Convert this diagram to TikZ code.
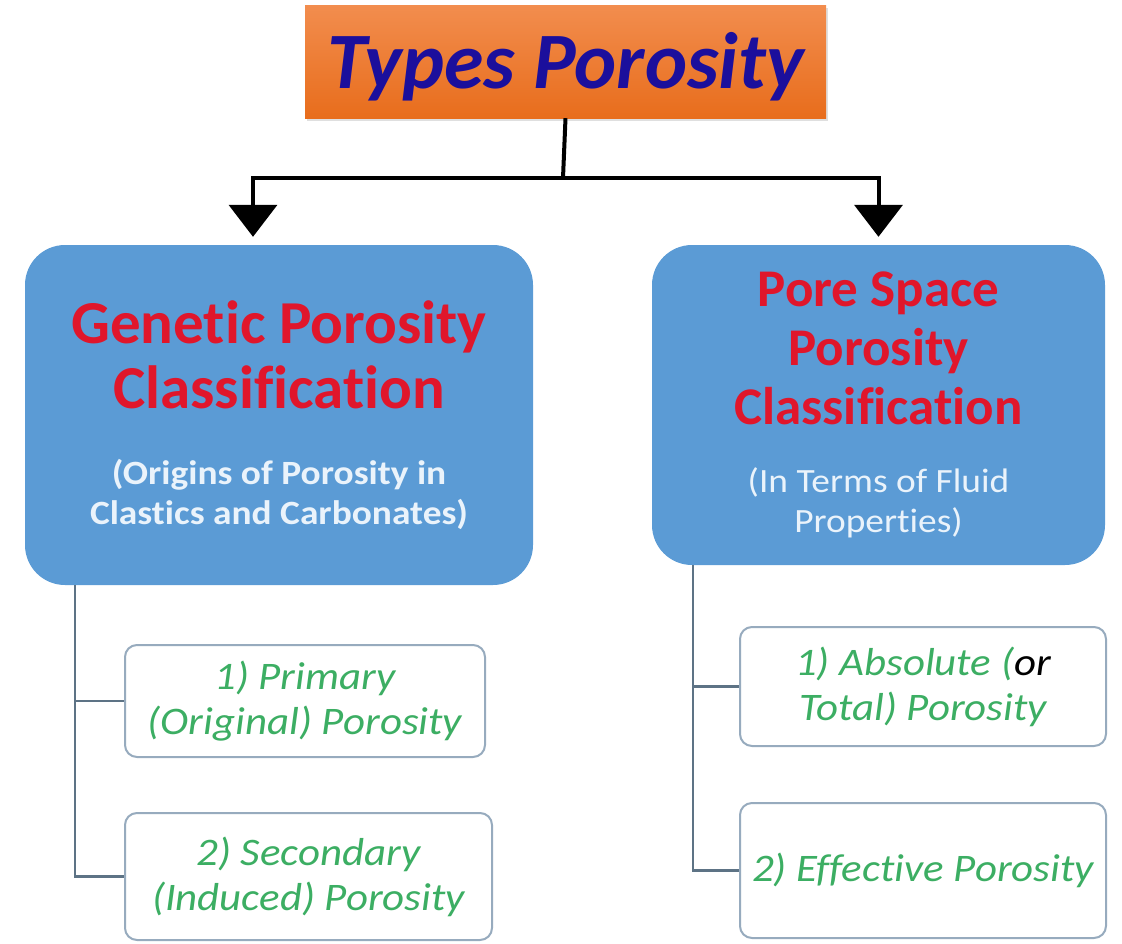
\documentclass[tikz,border=0pt]{standalone}
\usepackage{fontspec}
\setmainfont{Carlito}[Ligatures=CommonOff]
\newfontfamily\widefont{Carlito}[FakeStretch=1.1, Ligatures=CommonOff]
\usetikzlibrary{arrows.meta,shadows}

\definecolor{titleblue}{HTML}{1B0F9C}
\definecolor{orangetop}{HTML}{F28D4E}
\definecolor{orangebot}{HTML}{E86D1C}
\definecolor{boxblue}{HTML}{5B9BD5}
\definecolor{headred}{HTML}{E0162B}
\definecolor{subwhite}{HTML}{EAF3FB}
\definecolor{leafgreen}{HTML}{3CAE63}
\definecolor{leafedge}{HTML}{97ABBE}
\definecolor{treegray}{HTML}{5D7385}

\newcommand{\headfont}{\bfseries\fontsize{61}{65}\selectfont\spaceskip=0pt\xspaceskip=0pt\color{headred}}
\newcommand{\subfont}{\widefont\fontsize{34}{40}\selectfont\spaceskip=0pt\xspaceskip=0pt\color{subwhite}}

\begin{document}
\begin{tikzpicture}[x=1pt, y=-1pt,
    title/.style={rectangle, top color=orangetop, bottom color=orangebot, minimum width=521pt, minimum height=113pt, inner sep=0pt,
      text height=60pt, text depth=7pt,
      drop shadow={opacity=0.25, shadow xshift=2pt, shadow yshift=-3pt}, text=titleblue,
      font=\bfseries\itshape\fontsize{80}{84}\selectfont},
    classbox/.style={rectangle, rounded corners=40pt, fill=boxblue, inner sep=0pt},
    leaf/.style={rectangle, draw=leafedge, line width=2pt, rounded corners=12pt, fill=white, inner sep=0pt,
      align=center, minimum width=366pt, text=leafgreen, font=\widefont\itshape\fontsize{39}{45}\selectfont},
    link/.style={line width=4pt},
    arrow/.style={link, -{Triangle[width=48pt,length=32pt]}, shorten >=8pt},
    branch/.style={draw=treegray, line width=2.5pt}
  ]
    \useasboundingbox (0,0) rectangle (1122,943);

    % title
    \node[title] (title) at (565.5,61.5) {Types Porosity};

    % genetic classification
    \node[classbox, minimum width=508pt, minimum height=340pt, text width=490pt] (gen) at (279,415)
      {\centering{\headfont Genetic Porosity\\Classification\par}\vspace{36pt}
       {\subfont\bfseries (Origins of Porosity in\\Clastics and Carbonates)\par}};

    % pore space classification
    \node[classbox, minimum width=453pt, minimum height=320pt, text width=430pt] (pore) at (878.5,405)
      {\centering{\headfont\fontsize{53}{59}\selectfont Pore Space\\Porosity\\Classification\par}\vspace{28pt}
       {\subfont (In Terms of Fluid\\Properties)\par}};

    % arrows
    \coordinate (split) at (563,178);
    \draw[link] (title.south) -- (split);
    \draw[arrow] (split) -| ([xshift=-26pt]gen.north);
    \draw[arrow] (split) -| (pore.north);

    % genetic types
    \node[leaf, minimum width=360pt, minimum height=112pt] (prim) at (305,701) {1) Primary\\(Original) Porosity};
    \node[leaf, minimum width=367pt, minimum height=127pt] (sec) at (308.5,876.5) {2) Secondary\\(Induced) Porosity};

    % pore space types
    \node[leaf, minimum height=119pt] (abs) at (923,686.5) {1) Absolute (\textcolor{black}{or}\\Total) Porosity};
    \node[leaf, minimum height=135pt] (eff) at (923,870.5) {2) Effective Porosity};

    % tree lines
    \coordinate (gentrunk) at (75,585);
    \coordinate (poretrunk) at (693,565);
    \draw[branch] (gentrunk) |- (prim.west);
    \draw[branch] (gentrunk) |- (sec.west);
    \draw[branch] (poretrunk) |- (abs.west);
    \draw[branch] (poretrunk) |- (eff.west);
  \end{tikzpicture}
\end{document}
